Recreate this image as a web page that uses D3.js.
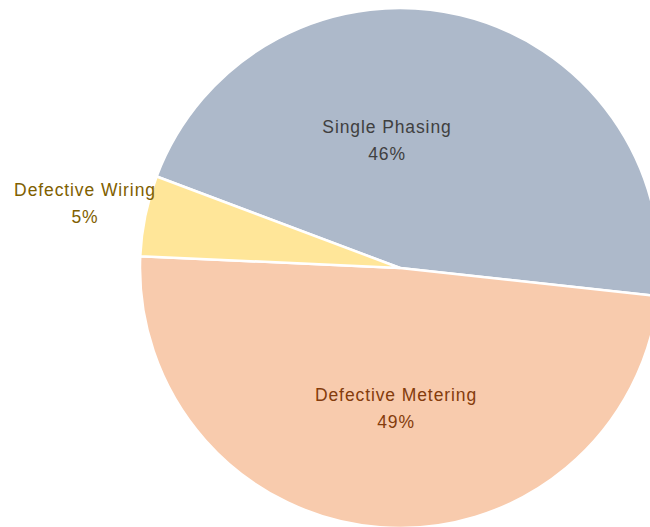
<!DOCTYPE html>
<html>
<head>
<meta charset="utf-8">
<script src="https://cdn.jsdelivr.net/npm/d3@7"></script>
<style>
  body { margin: 0; background: #fff; }
  svg { display: block; }
  .lbl { font-family: 'Liberation Sans', Arial, sans-serif; font-size: 17.5px; letter-spacing: 0.9px; }
</style>
</head>
<body>
<svg width="650" height="527"></svg>
<script>
const categories = ['Single Phasing', 'Defective Metering', 'Defective Wiring'];
const values = [46, 49, 5];
const sliceColors = ['#ADB9CA', '#F8CBAD', '#FFE699'];
const labelColors = ['#404040', '#843C0C', '#7F6000'];
// label centre, relative to pie centre
const labelPos = [[-13, -132], [-4, 136], [-315, -69]];

const width = 650, height = 527;
const cx = 400, cy = 268, radius = 260;

const svg = d3.select('svg');
const g = svg.append('g').attr('transform', 'translate(' + cx + ',' + cy + ')');

const pie = d3.pie()
  .sort(null)
  .value(d => d)
  .startAngle(-69.4 * Math.PI / 180)
  .endAngle((360 - 69.4) * Math.PI / 180);

const arc = d3.arc().innerRadius(0).outerRadius(radius);

const arcs = pie(values);

g.selectAll('path.slice')
  .data(arcs)
  .enter()
  .append('path')
  .attr('class', 'slice')
  .attr('d', arc)
  .attr('fill', (d, i) => sliceColors[i])
  .attr('stroke', '#fff')
  .attr('stroke-width', 2.5)
  .attr('stroke-linejoin', 'round');

const total = d3.sum(values);

const labels = g.selectAll('text.lbl')
  .data(arcs)
  .enter()
  .append('text')
  .attr('class', 'lbl')
  .attr('text-anchor', 'middle')
  .attr('fill', (d, i) => labelColors[i])
  .attr('transform', (d, i) => 'translate(' + labelPos[i][0] + ',' + labelPos[i][1] + ')');

labels.append('tspan')
  .attr('x', 0)
  .attr('dy', '-0.2em')
  .text((d, i) => categories[i]);

labels.append('tspan')
  .attr('x', 0)
  .attr('dy', '1.55em')
  .text(d => Math.round(d.value / total * 100) + '%');
</script>
</body>
</html>
